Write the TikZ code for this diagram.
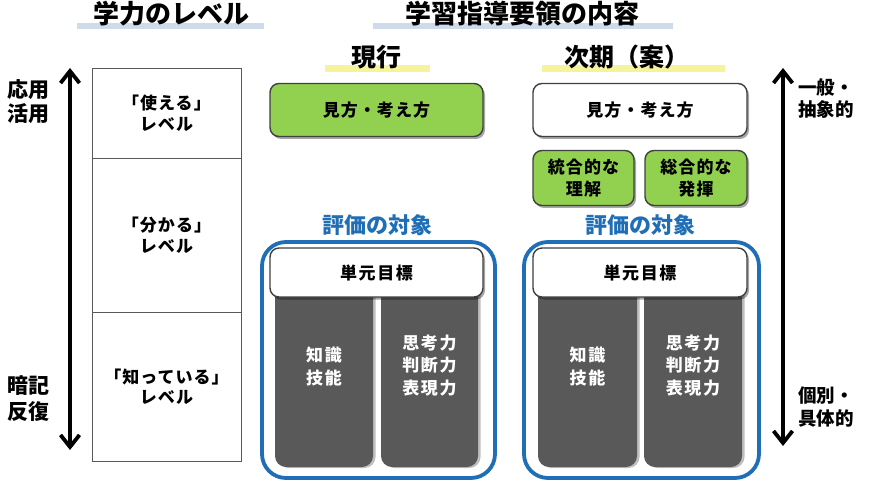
\documentclass[tikz,border=0pt]{standalone}
\usepackage{fontspec}
\setmainfont{Noto Sans CJK JP}
\newfontfamily\jpsp{Noto Sans CJK JP}[LetterSpace=6]
\newfontfamily\jpspw{Noto Sans CJK JP}[LetterSpace=9]
\usetikzlibrary{arrows.meta,shadows}
\definecolor{grn}{HTML}{92D050}
\definecolor{blu}{HTML}{1F6EB6}
\definecolor{colg}{HTML}{595959}
\definecolor{ulblue}{HTML}{CFDAEA}
\definecolor{ulyel}{HTML}{F7F39A}
\begin{document}
\begin{tikzpicture}[x=1pt,y=-1pt,
  title/.style={inner sep=0pt, font=\bfseries\fontsize{26}{30}\selectfont},
  sub/.style={inner sep=0pt, font=\bfseries\fontsize{25}{28}\selectfont},
  lvl/.style={draw=black!65, line width=0.8pt, fill=white, minimum width=149pt, inner sep=0pt, align=center, font=\jpsp\bfseries\fontsize{17}{20.5}\selectfont},
  shd/.style={drop shadow={shadow xshift=2pt, shadow yshift=-2.5pt, fill=black, opacity=0.35}},
  gbox/.style={draw=black!75, line width=1.4pt, fill=grn, rounded corners=9pt, inner sep=0pt, align=center, shd, font=\jpsp\bfseries\fontsize{17}{21.5}\selectfont},
  wbox/.style={draw=black!75, line width=1.4pt, fill=white, rounded corners=9pt, inner sep=0pt, align=center, shd, font=\jpsp\bfseries\fontsize{17}{21.5}\selectfont},
  frame/.style={draw=blu, line width=3.8pt, rounded corners=24pt, inner sep=0pt},
  col/.style={fill=colg, rounded corners=11pt, inner sep=0pt, drop shadow={shadow xshift=2.5pt, shadow yshift=-1pt, fill=black, opacity=0.25}},
  coltext/.style={text=white, align=center, inner sep=0pt, font=\jpspw\bfseries\fontsize{17}{22.5}\selectfont},
  side/.style={align=center, inner sep=0pt},
  bigarrow/.style={line width=3.8pt, {Straight Barb[length=12pt,width=19pt,line width=3.8pt]}-{Straight Barb[length=12pt,width=19pt,line width=3.8pt]}},
  eval/.style={text=blu, inner sep=0pt, font=\bfseries\fontsize{22}{25}\selectfont}
]
\useasboundingbox[fill=white] (0,0) rectangle (870,489);

% title underlines
\fill[ulblue] (77,23) rectangle (264,29);
\fill[ulblue] (373,23) rectangle (673,29);
\node[title] (t1) at (171,14) {学力のレベル};
\node[title] (t2) at (522,14) {学習指導要領の内容};

% sub titles
\fill[ulyel] (325,65) rectangle (430,72);
\fill[ulyel] (542,65) rectangle (725,72);
\node[sub] (cur) at (376,57) {現行};
\node[sub] (nxt) at (627,57) {次期（案）};

% level boxes
\node[lvl, minimum height=90pt] (L1) at (166.5,113) {「使える」\\レベル};
\node[lvl, minimum height=154pt] (L2) at (166.5,235) {「分かる」\\レベル};
\node[lvl, minimum height=149pt] (L3) at (166.5,386.5) {「知っている」\\レベル};

% left arrow and labels
\coordinate (la1) at (70,68);
\coordinate (la2) at (70,450);
\draw[bigarrow] (la1) -- (la2);
\node[side, font=\bfseries\fontsize{21}{24}\selectfont] (ou) at (28,102) {応用\\活用};
\node[side, font=\bfseries\fontsize{21}{26}\selectfont] (an) at (28,398.5) {暗記\\反復};

% right arrow and labels
\coordinate (ra1) at (783,68);
\coordinate (ra2) at (783,446);
\draw[bigarrow] (ra1) -- (ra2);
\node[side, font=\bfseries\fontsize{18.5}{22}\selectfont] (ip) at (826,99) {一般・\\抽象的};
\node[side, font=\bfseries\fontsize{18.5}{23}\selectfont] (ko) at (826,407) {個別・\\具体的};

% top boxes
\node[gbox, minimum width=213pt, minimum height=53pt] (mk1) at (376.5,110) {見方・考え方};
\node[wbox, minimum width=214pt, minimum height=53pt] (mk2) at (640,110) {見方・考え方};
\node[gbox, minimum width=101pt, minimum height=55pt] (tg) at (583.5,178) {統合的な\\理解};
\node[gbox, minimum width=102pt, minimum height=55pt] (sg) at (696,178) {総合的な\\発揮};

% evaluation labels
\node[eval] (ev1) at (377,225) {評価の対象};
\node[eval] (ev2) at (640,225) {評価の対象};

% frames
\node[frame, minimum width=233pt, minimum height=236pt] (f1) at (378.5,360) {};
\node[frame, minimum width=235pt, minimum height=236pt] (f2) at (641.5,360) {};

% columns
\node[col, minimum width=98pt, minimum height=197pt] (c1) at (324,368.5) {};
\node[col, minimum width=97pt, minimum height=197pt] (c2) at (429.5,368.5) {};
\node[col, minimum width=99pt, minimum height=197pt] (c3) at (587.5,368.5) {};
\node[col, minimum width=98pt, minimum height=197pt] (c4) at (693,368.5) {};
\node[coltext] (ct1) at (324,366.5) {知識\\技能};
\node[coltext] (ct2) at (429.5,365.5) {思考力\\判断力\\表現力};
\node[coltext] (ct3) at (587.5,366.5) {知識\\技能};
\node[coltext] (ct4) at (693,365.5) {思考力\\判断力\\表現力};

% unit goals
\node[wbox, font=\jpspw\bfseries\fontsize{17}{21}\selectfont, minimum width=213pt, minimum height=49pt] (u1) at (376.5,272.5) {単元目標};
\node[wbox, font=\jpspw\bfseries\fontsize{17}{21}\selectfont, minimum width=214pt, minimum height=49pt] (u2) at (640,272.5) {単元目標};
\end{tikzpicture}
\end{document}
